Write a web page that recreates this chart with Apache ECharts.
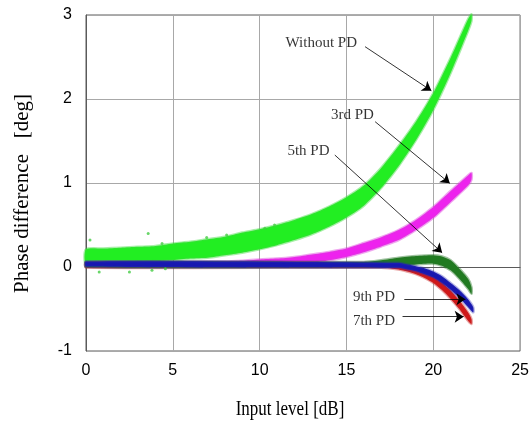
<!DOCTYPE html>
<html>
<head>
<meta charset="utf-8">
<script src="https://cdn.jsdelivr.net/npm/echarts@6/dist/echarts.min.js"></script>
<style>
  html, body { margin: 0; padding: 0; background: #fff; }
  #chart { width: 532px; height: 421px; }
</style>
</head>
<body>
<div id="chart"></div>
<script>
// Phase difference vs input level, for several predistortion (PD) orders.
// Each measured cloud is drawn as a band: mid value +/- spread.

const xTicks = [0, 5, 10, 15, 20, 25];
const yTicks = [-1, 0, 1, 2, 3];

// Without PD
const noPdX      = [0, 1, 2, 3, 4, 5, 6, 7, 8, 9, 10, 11, 12, 13, 14, 15, 16, 17, 18, 19, 20, 21, 22, 22.2];
const noPdMid    = [0.12, 0.13, 0.14, 0.15, 0.16, 0.18, 0.20, 0.22, 0.25, 0.29, 0.33, 0.38, 0.44, 0.51, 0.60, 0.71, 0.85, 1.06, 1.32, 1.62, 1.97, 2.40, 2.88, 2.97];
const noPdSpread = [0.09, 0.09, 0.09, 0.09, 0.09, 0.10, 0.10, 0.11, 0.11, 0.12, 0.12, 0.12, 0.12, 0.12, 0.12, 0.12, 0.12, 0.12, 0.12, 0.11, 0.10, 0.09, 0.07, 0.04];
const noPdOutX   = [0.23, 0.76, 2.5, 3.58, 3.8, 4.38, 4.57, 6.95, 8.1, 10.3, 10.86];
const noPdOutY   = [0.32, -0.06, -0.06, 0.40, -0.04, 0.28, -0.02, 0.35, 0.38, 0.46, 0.50];

// 3rd PD
const pd3X      = [0, 5, 8, 9, 10, 11, 12, 13, 14, 15, 16, 17, 18, 19, 20, 21, 22, 22.2];
const pd3Mid    = [0.03, 0.03, 0.035, 0.04, 0.05, 0.06, 0.075, 0.10, 0.13, 0.17, 0.23, 0.30, 0.38, 0.50, 0.65, 0.84, 1.03, 1.08];
const pd3Spread = [0.03, 0.03, 0.03, 0.035, 0.04, 0.04, 0.045, 0.05, 0.05, 0.05, 0.055, 0.055, 0.06, 0.06, 0.065, 0.065, 0.06, 0.04];

// 5th PD
const pd5X      = [0, 16, 17, 18, 19, 20, 20.5, 21, 21.5, 22, 22.2];
const pd5Mid    = [0.03, 0.03, 0.04, 0.06, 0.08, 0.09, 0.07, 0.02, -0.08, -0.20, -0.28];
const pd5Spread = [0.03, 0.03, 0.04, 0.05, 0.05, 0.05, 0.055, 0.06, 0.06, 0.06, 0.04];

// 7th PD
const pd7X      = [0, 17, 18, 18.5, 19, 19.5, 20, 20.5, 21, 21.5, 22, 22.2];
const pd7Mid    = [0.025, 0.02, 0.0, -0.02, -0.05, -0.09, -0.15, -0.23, -0.33, -0.45, -0.59, -0.65];
const pd7Spread = [0.03, 0.03, 0.03, 0.035, 0.035, 0.04, 0.04, 0.045, 0.05, 0.05, 0.05, 0.03];

// 9th PD
const pd9X      = [0, 18, 18.5, 19, 19.5, 20, 20.5, 21, 21.5, 22, 22.3];
const pd9Mid    = [0.035, 0.02, 0.0, -0.02, -0.05, -0.09, -0.15, -0.23, -0.32, -0.43, -0.51];
const pd9Spread = [0.03, 0.03, 0.03, 0.03, 0.035, 0.035, 0.04, 0.04, 0.045, 0.045, 0.03];

// Callouts: label, text anchor (left edge), arrow start, arrow tip
const calloutLabels = ['Without PD', '3rd PD', '5th PD', '9th PD', '7th PD'];
const calloutText   = [[11.49, 2.667], [14.11, 1.81], [11.6, 1.385], [15.37, -0.361], [15.37, -0.639]];
const calloutFrom   = [[16.07, 2.623], [16.65, 1.73], [14.33, 1.333], [18.33, -0.385], [18.23, -0.592]];
const calloutTo     = [[19.89, 2.099], [20.95, 0.996], [20.51, 0.17], [21.85, -0.385], [21.75, -0.592]];

// A band series: each row is [x, lower, upper]; the whole outline is
// drawn as one filled polygon through the cartesian coordinate system,
// with a soft translucent rim standing in for the scattered edge points.
function bandSeries(id, xs, mid, spread, color, rim) {
  const rows = xs.map((x, i) => [x, mid[i] - spread[i], mid[i] + spread[i]]);
  return {
    type: 'custom', name: id, silent: true,
    encode: { x: 0, y: [1, 2] },
    data: rows,
    renderItem: function (params, api) {
      if (params.dataIndex !== 0) return null;
      const upper = rows.map(r => api.coord([r[0], r[2]]));
      const lower = rows.map(r => api.coord([r[0], r[1]])).reverse();
      return {
        type: 'polygon',
        shape: { points: upper.concat(lower), smooth: 0.25 },
        style: { fill: color, stroke: rim, lineWidth: 2.5, lineJoin: 'round' }
      };
    }
  };
}

const serif = '"Liberation Serif", "Times New Roman", serif';
const sans = '"Liberation Sans", Arial, sans-serif';

const chart = echarts.init(document.getElementById('chart'), null, { renderer: 'canvas' });

const series = [
  bandSeries('noPd', noPdX, noPdMid, noPdSpread, '#22ee22', 'rgba(60,220,60,0.45)'),
  {
    type: 'scatter', name: 'noPd-out', silent: true,
    data: noPdOutX.map((x, i) => [x, noPdOutY[i]]),
    symbolSize: 3, itemStyle: { color: '#44cc44' }
  },
  bandSeries('pd3', pd3X, pd3Mid, pd3Spread, '#ee22ee', 'rgba(220,60,220,0.45)'),
  bandSeries('pd7', pd7X, pd7Mid, pd7Spread, '#d01818', 'rgba(200,40,40,0.4)'),
  bandSeries('pd5', pd5X, pd5Mid, pd5Spread, '#207a20', 'rgba(40,120,40,0.45)'),
  bandSeries('pd9', pd9X, pd9Mid, pd9Spread, '#1818b0', 'rgba(40,40,180,0.35)'),
  {
    type: 'lines', coordinateSystem: 'cartesian2d', silent: true, z: 5,
    symbol: ['none', 'arrow'], symbolSize: 9,
    lineStyle: { color: '#000', width: 0.8, opacity: 1 },
    data: calloutFrom.map((p, i) => ({ coords: [p, calloutTo[i]] }))
  },
  {
    type: 'scatter', silent: true, z: 5, symbolSize: 0,
    data: calloutText.map((p, i) => ({ value: p, name: calloutLabels[i] })),
    label: {
      show: true, position: 'right', distance: 0,
      formatter: p => p.name,
      fontFamily: serif, fontSize: 15, color: '#000'
    }
  }
];

chart.setOption({
  animation: false,
  backgroundColor: '#fff',
  grid: {
    left: 86, right: 8, top: 15, bottom: 70,
    show: true, borderColor: '#5a5a5a', borderWidth: 1
  },
  xAxis: {
    type: 'value', min: xTicks[0], max: xTicks[xTicks.length - 1], interval: 5,
    axisLine: { show: true, lineStyle: { color: '#5a5a5a', width: 1 } },
    axisTick: { show: false },
    splitLine: { show: true, lineStyle: { color: '#a8a8a8', width: 1 } },
    axisLabel: { fontFamily: sans, fontSize: 16, color: '#000', margin: 12 }
  },
  yAxis: {
    type: 'value', min: yTicks[0], max: yTicks[yTicks.length - 1], interval: 1,
    axisLine: { show: true, lineStyle: { color: '#5a5a5a', width: 1 } },
    axisTick: { show: false },
    splitLine: { show: true, lineStyle: { color: '#a8a8a8', width: 1 } },
    axisLabel: { fontFamily: sans, fontSize: 16, color: '#000', margin: 14 }
  },
  graphic: [
    {
      type: 'text', x: 290, y: 410, scaleX: 0.85, originX: 0,
      style: {
        text: 'Input level [dB]', font: '20px ' + serif, fill: '#000',
        textAlign: 'center', textVerticalAlign: 'middle'
      }
    },
    {
      type: 'text', x: 22, y: 193.5, rotation: Math.PI / 2,
      style: {
        text: 'Phase difference   [deg]', font: '21px ' + serif, fill: '#000',
        textAlign: 'center', textVerticalAlign: 'middle'
      }
    }
  ],
  series: series
});
</script>
</body>
</html>
